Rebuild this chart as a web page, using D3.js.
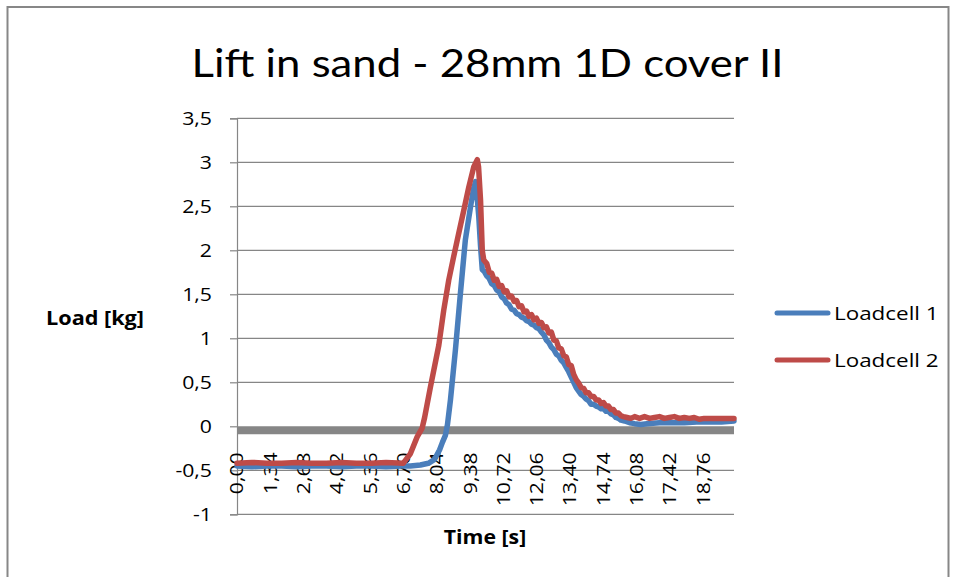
<!DOCTYPE html>
<html>
<head>
<meta charset="utf-8">
<script src="https://cdn.jsdelivr.net/npm/d3@7/dist/d3.min.js"></script>
<style>
  html, body { margin: 0; padding: 0; background: #fff; }
  svg { display: block; }
  text { font-family: "Open Sans", Lato, sans-serif; fill: #000; }
  .title { font-family: Lato, "Open Sans", sans-serif; }
</style>
</head>
<body>
<svg id="chart" width="956" height="577"></svg>
<script>
// ---- data -------------------------------------------------------------
const chartTitle = "Lift in sand - 28mm 1D cover II";
const seriesNames = ["Loadcell 1", "Loadcell 2"];
const seriesColors = ["#4a7ebb", "#be4b48"];

const timeTickValues = [0, 1.34, 2.68, 4.02, 5.36, 6.70, 8.04, 9.38, 10.72, 12.06, 13.40, 14.74, 16.08, 17.42, 18.76];
const loadTickValues = [-1, -0.5, 0, 0.5, 1, 1.5, 2, 2.5, 3, 3.5];

// Loadcell 1 (time [s], load [kg])
const time1 = [0, 0.6, 1.2, 1.8, 2.4, 3.0, 3.6, 4.2, 4.8, 5.4, 6.0, 6.6, 6.98, 7.38, 7.70, 7.94, 8.15, 8.27, 8.39, 8.47, 8.59, 8.79, 8.99, 9.19, 9.29, 9.40, 9.52, 9.60, 9.66, 9.73, 9.80, 9.87,
  9.95, 10.05, 10.15, 10.25, 10.35, 10.45, 10.55, 10.65, 10.75, 10.85, 10.95, 11.05, 11.15, 11.25, 11.35, 11.45, 11.55, 11.65, 11.75, 11.85, 11.95, 12.05, 12.15, 12.25, 12.35, 12.45, 12.55, 12.65, 12.75, 12.85, 12.95, 13.05, 13.15, 13.25, 13.35, 13.45, 13.55, 13.65, 13.75, 13.85, 13.95, 14.05, 14.15, 14.25, 14.35, 14.45, 14.55, 14.65, 14.75, 14.85, 14.95, 15.05, 15.15, 15.25, 15.35, 15.45, 15.6, 15.8, 16.0, 16.25, 16.5, 17.0, 17.5, 18.0, 18.5, 19.0, 19.5, 20.0];
const load1 = [-0.45, -0.46, -0.45, -0.45, -0.46, -0.45, -0.45, -0.46, -0.45, -0.45, -0.46, -0.45, -0.45, -0.44, -0.42, -0.38, -0.27, -0.18, -0.10, 0.02, 0.30, 0.87, 1.51, 2.12, 2.30, 2.50, 2.70, 2.78, 2.62, 2.38, 2.05, 1.78,
  1.76, 1.71, 1.68, 1.62, 1.60, 1.55, 1.53, 1.47, 1.45, 1.40, 1.38, 1.33, 1.32, 1.28, 1.27, 1.24, 1.23, 1.20, 1.19, 1.16, 1.15, 1.12, 1.11, 1.07, 1.04, 0.98, 0.95, 0.90, 0.87, 0.82, 0.80, 0.75, 0.72, 0.67, 0.62, 0.56, 0.50, 0.44, 0.40, 0.36, 0.34, 0.31, 0.29, 0.25, 0.25, 0.23, 0.22, 0.20, 0.20, 0.17, 0.17, 0.14, 0.13, 0.10, 0.09, 0.07, 0.06, 0.04, 0.03, 0.02, 0.03, 0.04, 0.04, 0.04, 0.05, 0.05, 0.05, 0.06];

// Loadcell 2 (time [s], load [kg])
const time2 = [0, 0.6, 1.2, 1.8, 2.4, 3.0, 3.6, 4.2, 4.8, 5.4, 6.0, 6.69, 6.77, 6.98, 7.25, 7.45, 7.55, 7.78, 8.12, 8.32, 8.52, 8.72, 8.92, 9.13, 9.33, 9.53, 9.67, 9.72, 9.80, 9.87, 9.93,
  10.05, 10.15, 10.25, 10.35, 10.45, 10.55, 10.65, 10.75, 10.85, 10.95, 11.05, 11.15, 11.25, 11.35, 11.45, 11.55, 11.65, 11.75, 11.85, 11.95, 12.05, 12.15, 12.25, 12.35, 12.45, 12.55, 12.65, 12.75, 12.85, 12.95, 13.05, 13.15, 13.25, 13.35, 13.45, 13.55, 13.65, 13.75, 13.85, 13.95, 14.05, 14.15, 14.25, 14.35, 14.45, 14.55, 14.65, 14.75, 14.85, 14.95, 15.05, 15.15, 15.25, 15.35, 15.45, 15.55, 15.7, 15.85, 16.0, 16.2, 16.4, 16.6, 16.8, 17.0, 17.2, 17.4, 17.6, 17.8, 18.0, 18.2, 18.4, 18.6, 18.8, 19.0, 19.5, 20.0];
const load2 = [-0.42, -0.41, -0.42, -0.42, -0.41, -0.42, -0.42, -0.41, -0.42, -0.42, -0.41, -0.42, -0.39, -0.31, -0.12, -0.02, 0.10, 0.44, 0.92, 1.32, 1.66, 1.93, 2.19, 2.46, 2.72, 2.95, 3.03, 2.95, 2.57, 2.00, 1.89,
  1.85, 1.75, 1.74, 1.66, 1.67, 1.59, 1.60, 1.53, 1.54, 1.47, 1.48, 1.42, 1.43, 1.36, 1.37, 1.30, 1.31, 1.25, 1.27, 1.21, 1.23, 1.17, 1.18, 1.12, 1.13, 1.06, 1.07, 0.98, 0.97, 0.89, 0.88, 0.80, 0.79, 0.70, 0.69, 0.59, 0.53, 0.49, 0.44, 0.43, 0.38, 0.38, 0.34, 0.34, 0.30, 0.30, 0.26, 0.27, 0.23, 0.23, 0.19, 0.19, 0.15, 0.15, 0.12, 0.11, 0.10, 0.09, 0.11, 0.09, 0.11, 0.09, 0.10, 0.11, 0.09, 0.10, 0.11, 0.09, 0.10, 0.09, 0.10, 0.08, 0.09, 0.09, 0.09, 0.09];

// ---- layout -------------------------------------------------------------
const svg = d3.select("#chart");
const plot = { left: 237, right: 734, top: 118.3, bottom: 514.3 };
const gridColor = "#868686";
const SX = 1.18; // horizontal glyph stretch of the chart text

const x = d3.scaleLinear().domain([0, 20]).range([plot.left, plot.right]);
const y = d3.scaleLinear().domain([-1, 3.5]).range([plot.bottom, plot.top]);

const commaNum = v => String(v).replace(".", ",");
const timeFmt = v => d3.format(".2f")(v).replace(".", ",");

// chart frame
svg.append("rect")
  .attr("x", 7.5).attr("y", 7).attr("width", 941).attr("height", 620)
  .attr("fill", "#fff").attr("stroke", "#878787").attr("stroke-width", 2);

// title
svg.append("text")
  .attr("class", "title")
  .attr("transform", `translate(487.5,77) scale(1.15,1)`)
  .attr("text-anchor", "middle")
  .attr("font-size", 38)
  .text(chartTitle);

// horizontal gridlines
svg.append("g").selectAll("line")
  .data(loadTickValues.filter(v => v !== 0))
  .join("line")
  .attr("x1", plot.left).attr("x2", plot.right)
  .attr("y1", d => y(d)).attr("y2", d => y(d))
  .attr("stroke", gridColor).attr("stroke-width", 1.2);

// value axis
const yAxis = d3.axisLeft(y).tickValues(loadTickValues).tickSize(7).tickFormat(commaNum);
const gy = svg.append("g").attr("transform", `translate(${plot.left},0)`).call(yAxis);
gy.select(".domain").attr("stroke", gridColor).attr("stroke-width", 1.2);
gy.selectAll(".tick line").attr("stroke", gridColor).attr("stroke-width", 1.2);
gy.selectAll(".tick text").remove();
gy.selectAll(".tick").append("text")
  .attr("transform", `translate(-25,6.5) scale(${SX},1)`)
  .attr("text-anchor", "end")
  .attr("font-size", 18)
  .text(d => commaNum(d));

// time axis (crosses at zero)
svg.append("line")
  .attr("x1", plot.left).attr("x2", plot.right)
  .attr("y1", y(0) + 4).attr("y2", y(0) + 4)
  .attr("stroke", gridColor).attr("stroke-width", 8);

svg.append("g").selectAll("text")
  .data(timeTickValues)
  .join("text")
  .attr("transform", d => `translate(${x(d)},${y(0) + 26}) rotate(-90) scale(${SX},1)`)
  .attr("text-anchor", "end")
  .attr("dy", "0.36em")
  .attr("font-size", 18)
  .text(d => timeFmt(d));

// axis titles
svg.append("text")
  .attr("transform", `translate(95,325) scale(1.14,1)`)
  .attr("text-anchor", "middle")
  .attr("font-size", 19).attr("font-weight", "bold")
  .text("Load [kg]");
svg.append("text")
  .attr("transform", `translate(485,544) scale(1.12,1)`)
  .attr("text-anchor", "middle")
  .attr("font-size", 19).attr("font-weight", "bold")
  .text("Time [s]");

// series
const series = [
  { name: seriesNames[0], color: seriesColors[0], pts: time1.map((t, i) => [t, load1[i]]) },
  { name: seriesNames[1], color: seriesColors[1], pts: time2.map((t, i) => [t, load2[i]]) }
];
const line = d3.line().x(d => x(d[0])).y(d => y(d[1]));
svg.append("g").selectAll("path")
  .data(series)
  .join("path")
  .attr("d", d => line(d.pts))
  .attr("fill", "none")
  .attr("stroke", d => d.color)
  .attr("stroke-width", 5.5)
  .attr("stroke-linejoin", "round")
  .attr("stroke-linecap", "round");

// legend
const legend = svg.append("g").selectAll("g")
  .data(series)
  .join("g")
  .attr("transform", (d, i) => `translate(777,${313 + i * 47})`);
legend.append("line")
  .attr("x1", 0).attr("x2", 51)
  .attr("stroke", d => d.color).attr("stroke-width", 5)
  .attr("stroke-linecap", "round");
legend.append("text")
  .attr("transform", `translate(57,7) scale(1.18,1)`)
  .attr("font-size", 19)
  .text(d => d.name);
</script>
</body>
</html>
